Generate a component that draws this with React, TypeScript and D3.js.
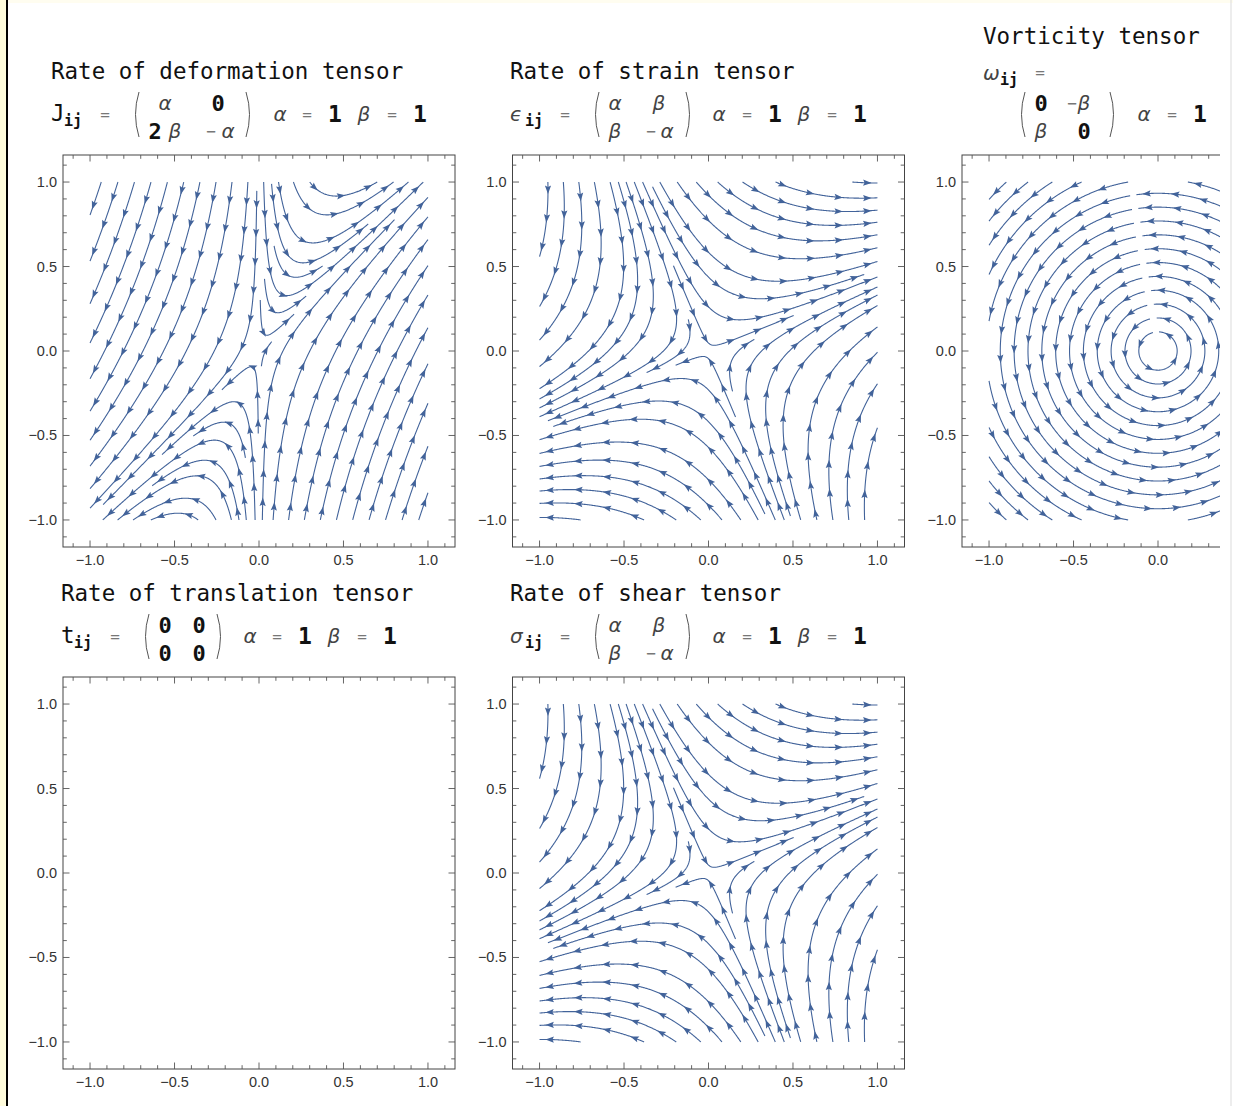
import React, { useMemo } from "react";
import * as d3 from "d3";

type Pt = [number, number];

// ---------------- data ----------------
const ALPHA = 1;
const BETA = 1;

const panelTitles = [
  "Rate of deformation tensor",
  "Rate of strain tensor",
  "Vorticity tensor",
  "Rate of translation tensor",
  "Rate of shear tensor",
];
const tensorSymbols = ["J", "ϵ", "ω", "t", "σ"];

const deformationTensor = [[ALPHA, 0], [2 * BETA, -ALPHA]];
const strainTensor = [[ALPHA, BETA], [BETA, -ALPHA]];
const vorticityTensor = [[0, -BETA], [BETA, 0]];
const translationTensor = [[0, 0], [0, 0]];
const shearTensor = [[ALPHA, BETA], [BETA, -ALPHA]];
const tensors = [deformationTensor, strainTensor, vorticityTensor, translationTensor, shearTensor];

const majorTicks = [-1, -0.5, 0, 0.5, 1];
const tickLabels = ["−1.0", "−0.5", "0.0", "0.5", "1.0"];
const minorTicks = [-1.1, -1.0, -0.9, -0.8, -0.7, -0.6, -0.5, -0.4, -0.3, -0.2, -0.1, 0, 0.1, 0.2, 0.3, 0.4, 0.5, 0.6, 0.7, 0.8, 0.9, 1.0, 1.1];
const plotRange: [number, number] = [-1.16, 1.16];
const streamRange: [number, number] = [-1, 1];

// ---------------- style / layout ----------------
const STREAM = "#42639a";
const FRAME = 392;
const VISIBLE_RIGHT = 1220;
const panelOrigins: Pt[] = [
  [63, 155],
  [512.5, 155],
  [962, 155],
  [63, 677],
  [512.5, 677],
];
const lineSeparation = [0.094, 0.094, 0.082, 0.094, 0.094];
const MONO = "'DejaVu Sans Mono', 'Liberation Mono', monospace";
const SANS = "'Liberation Sans', Arial, sans-serif";
const GREEK = "'DejaVu Sans', 'Noto Sans', sans-serif";

type Tok = { t: string; x: number; y: number; k: "mono" | "sub" | "greek" | "gsym" | "eq" | "num" | "one" };

function labelTokens(i: number): { title: Pt; toks: Tok[]; parens: [number, number, number, number] } {
  const sym = tensorSymbols[i];
  if (i === 0) {
    return {
      title: [51, 79],
      parens: [136, 249, 92, 137],
      toks: [
        { t: sym, x: 51, y: 121, k: "mono" },
        { t: "ij", x: 64, y: 126, k: "sub" },
        { t: "=", x: 105, y: 120, k: "eq" },
        { t: "α", x: 165, y: 110, k: "greek" },
        { t: "0", x: 218, y: 111, k: "num" },
        { t: "2", x: 155, y: 139, k: "num" },
        { t: "β", x: 175, y: 138, k: "greek" },
        { t: "−", x: 211, y: 137, k: "eq" },
        { t: "α", x: 228, y: 138, k: "greek" },
        { t: "α", x: 280, y: 121, k: "greek" },
        { t: "=", x: 307, y: 120, k: "eq" },
        { t: String(ALPHA), x: 335, y: 122, k: "one" },
        { t: "β", x: 364, y: 121, k: "greek" },
        { t: "=", x: 392, y: 120, k: "eq" },
        { t: String(BETA), x: 420, y: 122, k: "one" },
      ],
    };
  }
  if (i === 1 || i === 4) {
    const dy = i === 4 ? 522 : 0;
    return {
      title: [510, 79 + dy],
      parens: [596, 689, 92 + dy, 137 + dy],
      toks: [
        { t: sym, x: 510, y: 121 + dy, k: "gsym" },
        { t: "ij", x: 525, y: 126 + dy, k: "sub" },
        { t: "=", x: 565, y: 120 + dy, k: "eq" },
        { t: "α", x: 615, y: 110 + dy, k: "greek" },
        { t: "β", x: 659, y: 110 + dy, k: "greek" },
        { t: "β", x: 615, y: 138 + dy, k: "greek" },
        { t: "−", x: 651, y: 137 + dy, k: "eq" },
        { t: "α", x: 667, y: 138 + dy, k: "greek" },
        { t: "α", x: 719, y: 121 + dy, k: "greek" },
        { t: "=", x: 747, y: 120 + dy, k: "eq" },
        { t: String(ALPHA), x: 775, y: 122 + dy, k: "one" },
        { t: "β", x: 804, y: 121 + dy, k: "greek" },
        { t: "=", x: 832, y: 120 + dy, k: "eq" },
        { t: String(BETA), x: 860, y: 122 + dy, k: "one" },
      ],
    };
  }
  if (i === 2) {
    return {
      title: [983, 44],
      parens: [1022, 1113, 92, 137],
      toks: [
        { t: sym, x: 983, y: 80, k: "gsym" },
        { t: "ij", x: 1000, y: 85, k: "sub" },
        { t: "=", x: 1040, y: 78, k: "eq" },
        { t: "0", x: 1041, y: 111, k: "num" },
        { t: "−", x: 1072, y: 109, k: "eq" },
        { t: "β", x: 1084, y: 110, k: "greek" },
        { t: "β", x: 1041, y: 138, k: "greek" },
        { t: "0", x: 1084, y: 139, k: "num" },
        { t: "α", x: 1144, y: 121, k: "greek" },
        { t: "=", x: 1172, y: 120, k: "eq" },
        { t: String(ALPHA), x: 1200, y: 122, k: "one" },
      ],
    };
  }
  // translation
  const dy = 522;
  return {
    title: [61, 79 + dy],
    parens: [146, 220, 92 + dy, 137 + dy],
    toks: [
      { t: sym, x: 61, y: 121 + dy, k: "mono" },
      { t: "ij", x: 74, y: 126 + dy, k: "sub" },
      { t: "=", x: 115, y: 120 + dy, k: "eq" },
      { t: "0", x: 165, y: 111 + dy, k: "num" },
      { t: "0", x: 199, y: 111 + dy, k: "num" },
      { t: "0", x: 165, y: 139 + dy, k: "num" },
      { t: "0", x: 199, y: 139 + dy, k: "num" },
      { t: "α", x: 250, y: 121 + dy, k: "greek" },
      { t: "=", x: 277, y: 120 + dy, k: "eq" },
      { t: String(ALPHA), x: 305, y: 122 + dy, k: "one" },
      { t: "β", x: 334, y: 121 + dy, k: "greek" },
      { t: "=", x: 362, y: 120 + dy, k: "eq" },
      { t: String(BETA), x: 390, y: 122 + dy, k: "one" },
    ],
  };
}

// ---------------- streamline computation (evenly spaced, Jobard-Lefer) ----------------
function computeStreamlines(M: number[][], dsep: number, dtest: number): Pt[][] {
  const [[a, b], [c, d]] = M;
  if (a === 0 && b === 0 && c === 0 && d === 0) return [];
  const lo = streamRange[0];
  const hi = streamRange[1];
  const h = 0.004;
  const minSpeed = 0.035;
  const cs = dsep;
  const key = (i: number, j: number) => i * 4096 + j;
  const grid = new Map<number, number[]>();
  const addPt = (g: Map<number, number[]>, x: number, y: number, s = 0) => {
    const k = key(Math.floor((x - lo) / cs), Math.floor((y - lo) / cs));
    let arr = g.get(k);
    if (!arr) {
      arr = [];
      g.set(k, arr);
    }
    arr.push(x, y, s);
  };
  const near = (g: Map<number, number[]>, x: number, y: number, r: number, s?: number, win = 0) => {
    const i0 = Math.floor((x - lo) / cs);
    const j0 = Math.floor((y - lo) / cs);
    const r2 = r * r;
    const span = Math.ceil(r / cs);
    for (let i = i0 - span; i <= i0 + span; i++)
      for (let j = j0 - span; j <= j0 + span; j++) {
        const arr = g.get(key(i, j));
        if (!arr) continue;
        for (let k = 0; k < arr.length; k += 3) {
          const dx = arr[k] - x;
          const dy = arr[k + 1] - y;
          if (dx * dx + dy * dy < r2) {
            if (s === undefined || Math.abs(arr[k + 2] - s) > win) return true;
          }
        }
      }
    return false;
  };
  const vel = (x: number, y: number): Pt => [a * x + b * y, c * x + d * y];
  const dir = (x: number, y: number, sg: number): Pt => {
    const [u, v] = vel(x, y);
    const m = Math.hypot(u, v) || 1;
    return [(sg * u) / m, (sg * v) / m];
  };
  const clipT = (x: number, y: number, nx: number, ny: number) => {
    let t = 1;
    const dx = nx - x;
    const dy = ny - y;
    if (nx > hi) t = Math.min(t, (hi - x) / dx);
    if (nx < lo) t = Math.min(t, (lo - x) / dx);
    if (ny > hi) t = Math.min(t, (hi - y) / dy);
    if (ny < lo) t = Math.min(t, (lo - y) / dy);
    return Math.max(0, t);
  };
  const trace = (x0: number, y0: number, sg: number, own: Map<number, number[]>): Pt[] => {
    const pts: Pt[] = [];
    let x = x0;
    let y = y0;
    let s = 0;
    for (let n = 0; n < 5000; n++) {
      const [u, v] = vel(x, y);
      if (Math.hypot(u, v) < minSpeed) break;
      const k1 = dir(x, y, sg);
      const k2 = dir(x + (h / 2) * k1[0], y + (h / 2) * k1[1], sg);
      const k3 = dir(x + (h / 2) * k2[0], y + (h / 2) * k2[1], sg);
      const k4 = dir(x + h * k3[0], y + h * k3[1], sg);
      const nx = x + (h / 6) * (k1[0] + 2 * k2[0] + 2 * k3[0] + k4[0]);
      const ny = y + (h / 6) * (k1[1] + 2 * k2[1] + 2 * k3[1] + k4[1]);
      s += h;
      if (nx < lo || nx > hi || ny < lo || ny > hi) {
        const t = clipT(x, y, nx, ny);
        pts.push([x + (nx - x) * t, y + (ny - y) * t]);
        break;
      }
      if (near(grid, nx, ny, dtest)) break;
      if (near(own, nx, ny, dtest, sg * s, 4 * dtest)) break;
      pts.push([nx, ny]);
      addPt(own, nx, ny, sg * s);
      x = nx;
      y = ny;
    }
    return pts;
  };
  const lines: Pt[][] = [];
  const tryLine = (sx: number, sy: number): Pt[] | null => {
    if (sx < lo || sx > hi || sy < lo || sy > hi) return null;
    if (near(grid, sx, sy, dsep * 0.98)) return null;
    const [u, v] = vel(sx, sy);
    if (Math.hypot(u, v) < minSpeed * 1.5) return null;
    const own = new Map<number, number[]>();
    addPt(own, sx, sy, 0);
    const fwd = trace(sx, sy, 1, own);
    const bwd = trace(sx, sy, -1, own);
    const line: Pt[] = [...bwd.reverse(), [sx, sy], ...fwd];
    if (line.length < 12) return null;
    for (const p of line) addPt(grid, p[0], p[1]);
    lines.push(line);
    return line;
  };
  const step = Math.max(2, Math.round(dsep / (2 * h)));
  const grow = (first: Pt[]) => {
    const queue: Pt[][] = [first];
    while (queue.length) {
      const L = queue.shift()!;
      for (let i = 1; i < L.length - 1; i += step) {
        const tx = L[i + 1][0] - L[i - 1][0];
        const ty = L[i + 1][1] - L[i - 1][1];
        const m = Math.hypot(tx, ty) || 1;
        const nx = -ty / m;
        const ny = tx / m;
        for (const sgn of [1, -1]) {
          const nl = tryLine(L[i][0] + sgn * dsep * nx, L[i][1] + sgn * dsep * ny);
          if (nl) queue.push(nl);
        }
      }
    }
  };
  const seedCount = 13;
  for (let i = 0; i < seedCount; i++)
    for (let j = 0; j < seedCount; j++) {
      const sx = lo + 0.05 + ((hi - lo - 0.1) * j) / (seedCount - 1);
      const sy = hi - 0.05 - ((hi - lo - 0.1) * i) / (seedCount - 1);
      const l = tryLine(sx, sy);
      if (l) grow(l);
    }
  return lines;
}

const ARROW_SPACING = 0.17;
const ARROW_END = 0.06;
const ARROW_LEN = 8.5;
const ARROW_HW = 3.1;

function arrowPaths(line: Pt[], xs: (v: number) => number, ys: (v: number) => number): string[] {
  const cum = [0];
  for (let i = 1; i < line.length; i++)
    cum.push(cum[i - 1] + Math.hypot(line[i][0] - line[i - 1][0], line[i][1] - line[i - 1][1]));
  const L = cum[cum.length - 1];
  const out: string[] = [];
  let idx = line.length - 1;
  for (let s = L - ARROW_END; s > 0.035; s -= ARROW_SPACING) {
    while (idx > 1 && cum[idx - 1] > s) idx--;
    const i = Math.max(1, idx);
    const t = (s - cum[i - 1]) / ((cum[i] - cum[i - 1]) || 1);
    const px = xs(line[i - 1][0] + (line[i][0] - line[i - 1][0]) * t);
    const py = ys(line[i - 1][1] + (line[i][1] - line[i - 1][1]) * t);
    const j0 = Math.max(0, i - 4);
    const j1 = Math.min(line.length - 1, i + 3);
    let dx = xs(line[j1][0]) - xs(line[j0][0]);
    let dy = ys(line[j1][1]) - ys(line[j0][1]);
    const m = Math.hypot(dx, dy) || 1;
    dx /= m;
    dy /= m;
    const tipX = px + dx * ARROW_LEN * 0.5;
    const tipY = py + dy * ARROW_LEN * 0.5;
    const bx = px - dx * ARROW_LEN * 0.5;
    const by = py - dy * ARROW_LEN * 0.5;
    const nx = -dy;
    const ny = dx;
    const notchX = bx + dx * 1.5;
    const notchY = by + dy * 1.5;
    out.push(
      `M${tipX.toFixed(2)},${tipY.toFixed(2)}L${(bx + nx * ARROW_HW).toFixed(2)},${(by + ny * ARROW_HW).toFixed(2)}L${notchX.toFixed(2)},${notchY.toFixed(2)}L${(bx - nx * ARROW_HW).toFixed(2)},${(by - ny * ARROW_HW).toFixed(2)}Z`
    );
  }
  return out;
}

function tokStyle(k: Tok["k"]): React.SVGProps<SVGTextElement> {
  switch (k) {
    case "mono":
      return { fontFamily: MONO, fontSize: 22.5, fill: "#111", textAnchor: "start" };
    case "sub":
      return { fontFamily: MONO, fontSize: 15, fontWeight: 700, fill: "#111", textAnchor: "start" };
    case "eq":
      return { fontFamily: MONO, fontSize: 16, fill: "#777", textAnchor: "middle" };
    case "greek":
      return { fontFamily: GREEK, fontSize: 20, fontStyle: "italic", fontWeight: 300, fill: "#444", textAnchor: "middle" };
    case "gsym":
      return { fontFamily: GREEK, fontSize: 20, fontStyle: "italic", fontWeight: 300, fill: "#444", textAnchor: "start" };
    case "num":
      return { fontFamily: MONO, fontSize: 22, fontWeight: 700, fill: "#111", textAnchor: "middle" };
    case "one":
      return { fontFamily: MONO, fontSize: 23, fontWeight: 700, fill: "#111", textAnchor: "middle" };
  }
}

function Panel({ index, lines }: { index: number; lines: Pt[][] }) {
  const [x0, y0] = panelOrigins[index];
  const xs = d3.scaleLinear().domain(plotRange).range([x0, x0 + FRAME]);
  const ys = d3.scaleLinear().domain(plotRange).range([y0 + FRAME, y0]);
  const lineGen = d3.line<Pt>().x((p) => xs(p[0])).y((p) => ys(p[1]));
  const lab = labelTokens(index);
  const [pl, pr, pt, pb] = lab.parens;
  const pm = (pt + pb) / 2;
  const clip = index === 2 ? "url(#clip3)" : undefined;
  const isMajor = (v: number) => majorTicks.some((m) => Math.abs(m - v) < 1e-9);
  return (
    <g clipPath={clip}>
      <text x={lab.title[0]} y={lab.title[1]} fontFamily={MONO} fontSize={22.5} fill="#111">
        {panelTitles[index]}
      </text>
      {lab.toks.map((tk, i) => (
        <text key={i} x={tk.x} y={tk.y} {...tokStyle(tk.k)}>
          {tk.t}
        </text>
      ))}
      <path d={`M${pl + 3},${pt} Q${pl - 4},${pm} ${pl + 3},${pb}`} fill="none" stroke="#555" strokeWidth={1} />
      <path d={`M${pr - 3},${pt} Q${pr + 4},${pm} ${pr - 3},${pb}`} fill="none" stroke="#555" strokeWidth={1} />
      <g>
        {lines.map((l, i) => (
          <path key={i} d={lineGen(l) || ""} fill="none" stroke={STREAM} strokeWidth={1.1} strokeLinejoin="round" />
        ))}
        {lines.map((l, i) => (
          <path key={"a" + i} d={arrowPaths(l, xs, ys).join("")} fill={STREAM} stroke="none" />
        ))}
      </g>
      <rect x={x0} y={y0} width={FRAME} height={FRAME} fill="none" stroke="#444" strokeWidth={1} />
      {minorTicks.map((v) => {
        const len = isMajor(v) ? 6.5 : 3.8;
        const px = xs(v);
        const py = ys(v);
        return (
          <g key={v} stroke="#555" strokeWidth={0.9}>
            <line x1={px} x2={px} y1={y0 + FRAME} y2={y0 + FRAME - len} />
            <line x1={px} x2={px} y1={y0} y2={y0 + len} />
            <line x1={x0} x2={x0 + len} y1={py} y2={py} />
            <line x1={x0 + FRAME} x2={x0 + FRAME - len} y1={py} y2={py} />
          </g>
        );
      })}
      {majorTicks.map((v, i) => (
        <g key={"l" + v} fontFamily={SANS} fontSize={14.5} fill="#333">
          {xs(v) + 16 < VISIBLE_RIGHT && (
            <text x={xs(v)} y={y0 + FRAME + 18} textAnchor="middle">
              {tickLabels[i]}
            </text>
          )}
          <text x={x0 - 6} y={ys(v) + 5} textAnchor="end">
            {tickLabels[i]}
          </text>
        </g>
      ))}
    </g>
  );
}

export default function App() {
  const streams = useMemo(
    () => tensors.map((M, i) => computeStreamlines(M, lineSeparation[i], lineSeparation[i] * 0.45)),
    []
  );
  return (
    <svg
      width={1233}
      height={1106}
      viewBox="0 0 1233 1106"
      style={{ position: "absolute", left: 0, top: 0, background: "#fff" }}
    >
      <defs>
        <clipPath id="clip3">
          <rect x={920} y={0} width={VISIBLE_RIGHT - 920} height={1106} />
        </clipPath>
      </defs>
      <rect x={0} y={0} width={1233} height={1106} fill="#fff" />
      <rect x={0} y={0} width={1233} height={3} fill="#fffdf0" />
      <rect x={0} y={0} width={6} height={1106} fill="#fffcdc" />
      <rect x={6} y={0} width={2} height={1106} fill="#000" />
      <rect x={1230.5} y={0} width={1} height={1106} fill="#dcdcdc" />
      {panelTitles.map((_, i) => (
        <Panel key={i} index={i} lines={streams[i]} />
      ))}
    </svg>
  );
}
